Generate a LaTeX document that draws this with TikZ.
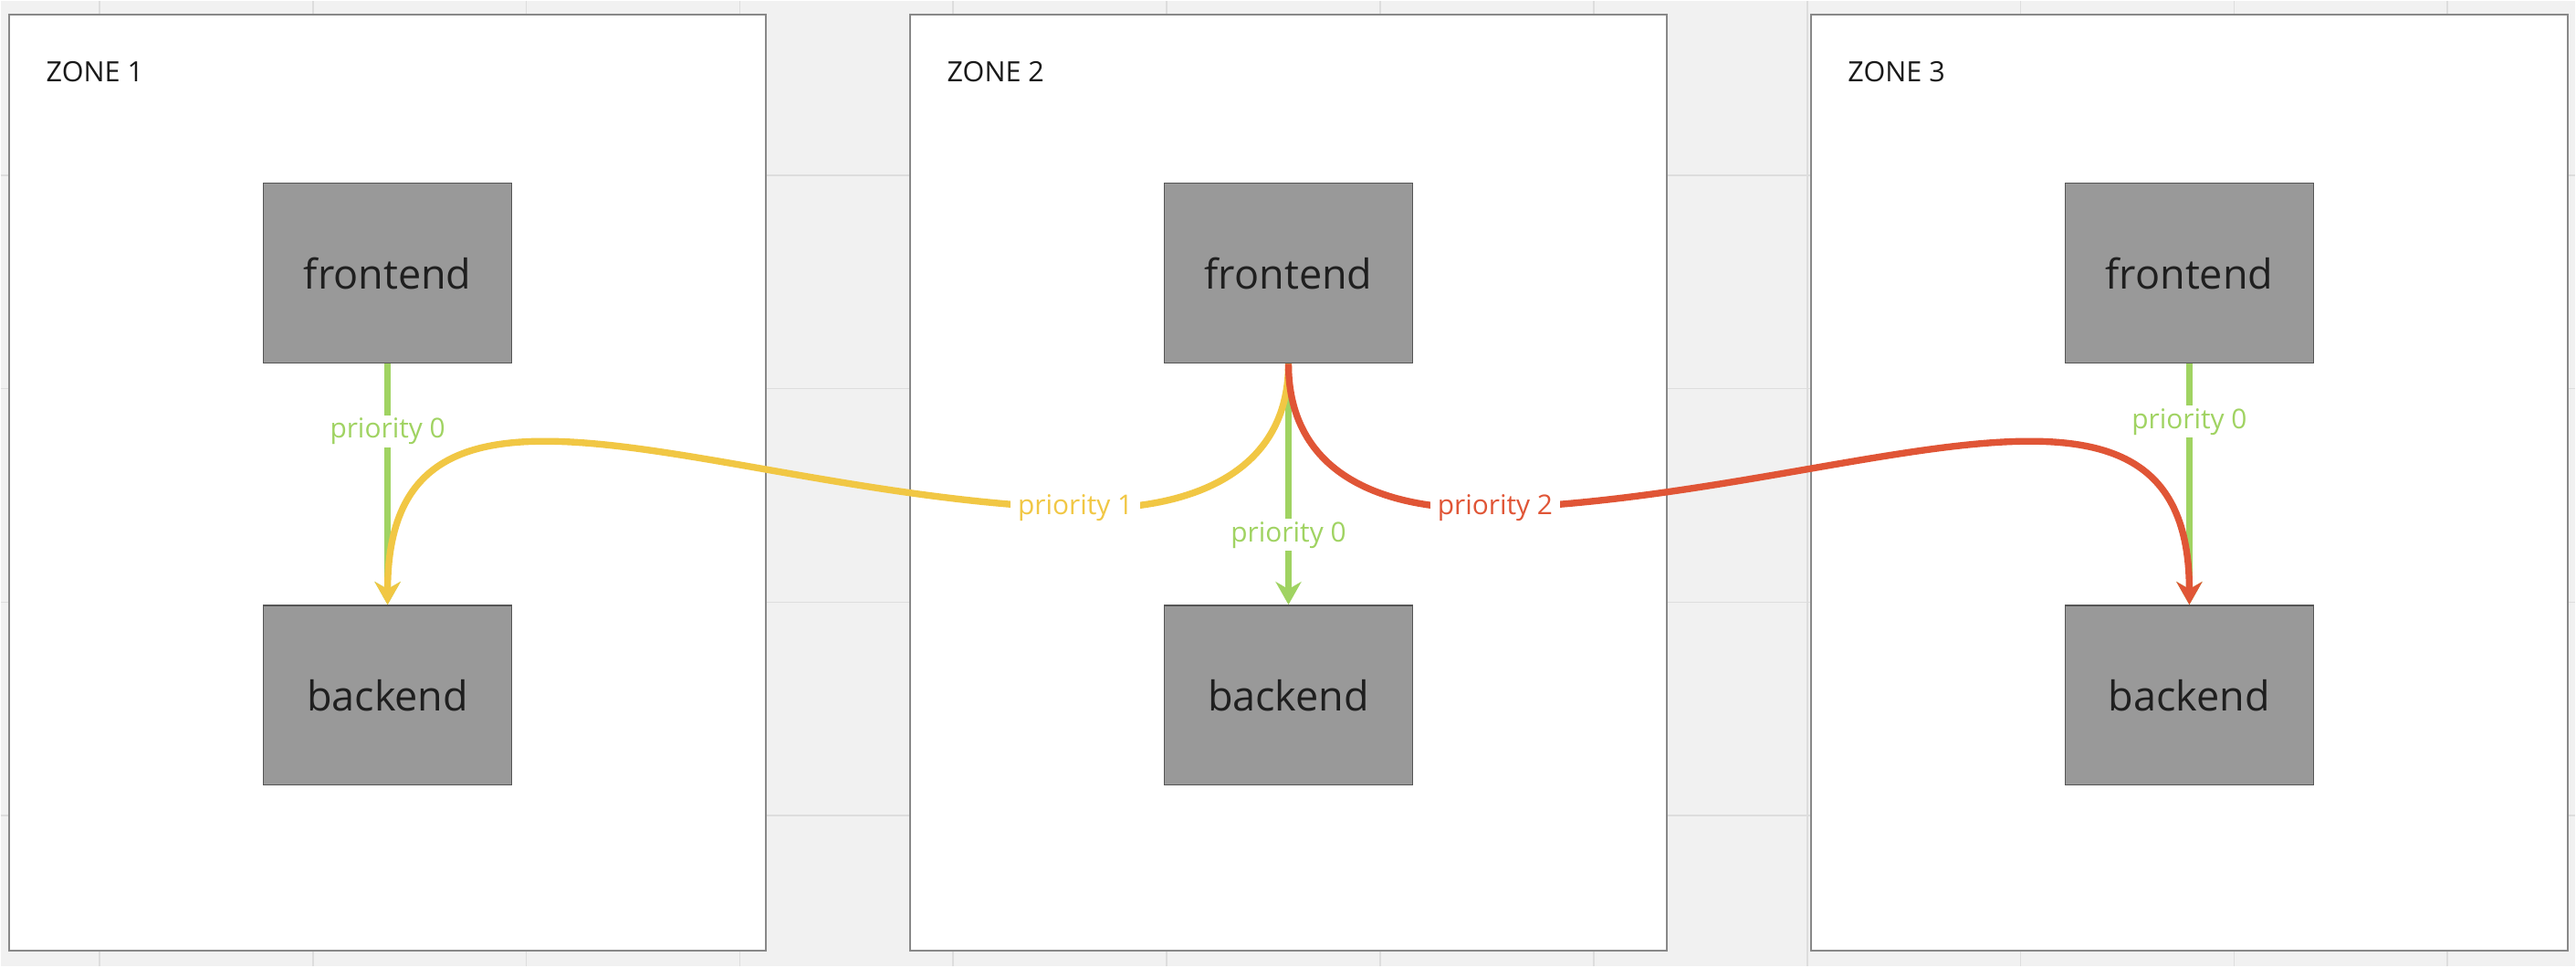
\documentclass[tikz,border=0pt]{standalone}
\usepackage{fontspec}
\setmainfont{Open Sans}
\usetikzlibrary{arrows.meta,positioning}
\definecolor{canvas}{HTML}{F1F1F1}
\definecolor{gridgray}{HTML}{DDDDDD}
\definecolor{zoneedge}{HTML}{888888}
\definecolor{boxfill}{HTML}{999999}
\definecolor{boxedge}{HTML}{555555}
\definecolor{prio0}{RGB}{160,211,98}
\definecolor{prio1}{RGB}{241,199,68}
\definecolor{prio2}{RGB}{224,85,54}

\begin{document}
\begin{tikzpicture}
    \tikzset{
        zone/.style={draw=zoneedge, line width=0.5pt, fill=white, minimum width=8.3cm, minimum height=10.26cm, inner sep=0pt},
        zonename/.style={inner sep=0pt, font=\fontsize{8.7}{10}\selectfont, text=black!90},
        service/.style={draw=boxedge, line width=0.4pt, fill=boxfill, minimum width=2.72cm, minimum height=1.97cm, inner sep=0pt, font=\fontsize{12.8}{15}\selectfont, text=black!88},
        route/.style={line width=2.1pt, -{Stealth[length=0.25cm, width=0.28cm, inset=0.08cm]}},
        prio/.style={fill=white, inner xsep=0.08cm, inner ysep=0.03cm, font=\fontsize{8.5}{10}\selectfont},
    }
    % background grid
    \fill[canvas] (0,0) rectangle (28.22,10.58);
    \foreach \x in {1.08,3.42,...,26.9} \draw[gridgray, line width=0.5pt] (\x,0) -- (\x,10.58);
    \foreach \y in {1.65,3.99,6.33,8.67} \draw[gridgray, line width=0.5pt] (0,\y) -- (28.22,\y);

    % zones
    \node[zone] (zone1) at (4.24,5.30) {};
    \node[zone] (zone2) at (14.115,5.30) {};
    \node[zone] (zone3) at (23.99,5.30) {};
    \node[zonename, below right=0.52cm and 0.41cm of zone1.north west] (name1) {ZONE 1};
    \node[zonename, below right=0.52cm and 0.41cm of zone2.north west] (name2) {ZONE 2};
    \node[zonename, below right=0.52cm and 0.41cm of zone3.north west] (name3) {ZONE 3};

    % services
    \node[service] (front1) at (4.24,7.595) {frontend};
    \node[service, below=2.64cm of front1] (back1) {backend};
    \node[service] (front2) at (14.115,7.595) {frontend};
    \node[service, below=2.64cm of front2] (back2) {backend};
    \node[service] (front3) at (23.99,7.595) {frontend};
    \node[service, below=2.64cm of front3] (back3) {backend};

    % priority 0, same zone
    \draw[route, prio0] (front1) -- node[prio, pos=0.28] {priority 0} (back1);
    \draw[route, prio0] (front2) -- node[prio, pos=0.71] {priority 0} (back2);
    \draw[route, prio0] (front3) -- node[prio, pos=0.24] {priority 0} (back3);

    % priority 1 and 2, other zones
    \coordinate (bend1) at (11.78,5.02);
    \coordinate (bend2) at (16.38,5.02);
    \draw[route, prio1] (front2.south) .. controls +(0,-1.23) and +(1.2,-0.04) .. (bend1)
        node[prio] {priority 1}
        .. controls +(-3.98,0.14) and +(0,3.1) .. (back1.north);
    \draw[route, prio2] (front2.south) .. controls +(0,-1.23) and +(-1.2,-0.04) .. (bend2)
        node[prio] {priority 2}
        .. controls +(3.98,0.14) and +(0,3.1) .. (back3.north);
\end{tikzpicture}
\end{document}
